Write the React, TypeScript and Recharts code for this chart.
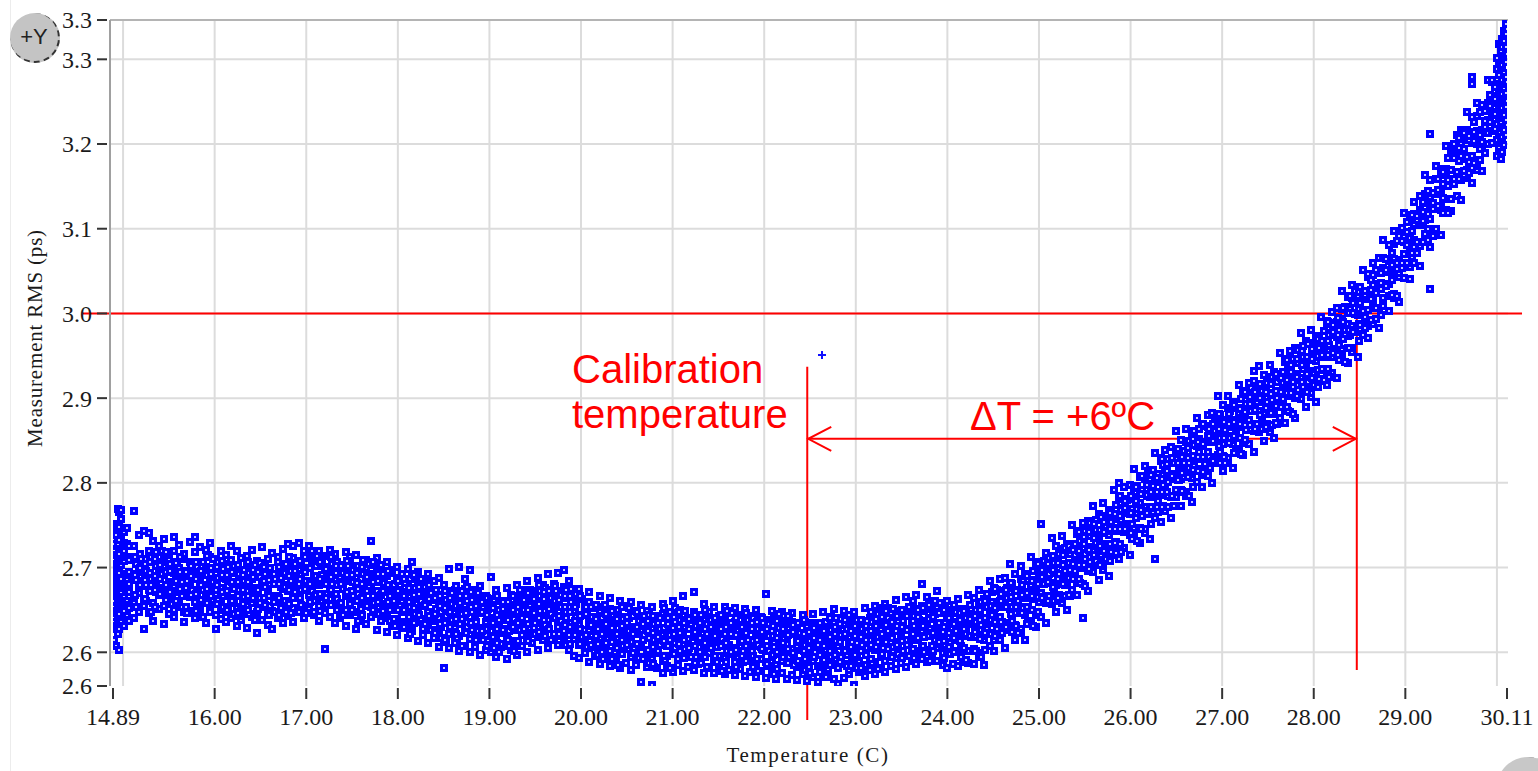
import React from 'react';
import {
  ScatterChart,
  Scatter,
  XAxis,
  YAxis,
  CartesianGrid,
  ReferenceLine,
  Label,
} from 'recharts';

// axis setup
const tempDomain = [14.89, 30.11];
const rmsDomain = [2.5602, 3.3464];
const tempTicks = [14.89, 16, 17, 18, 19, 20, 21, 22, 23, 24, 25, 26, 27, 28, 29, 30.11];
const rmsTicks = [2.5602, 2.6, 2.7, 2.8, 2.9, 3.0, 3.1, 3.2, 3.3, 3.3464];
const gridTemps = [15, 16, 17, 18, 19, 20, 21, 22, 23, 24, 25, 26, 27, 28, 29, 30];
const gridRms = [2.6, 2.7, 2.8, 2.9, 3.0, 3.1, 3.2, 3.3];

// annotation values
const calibrationTemp = 22.47;
const deltaT = 6;
const rmsLimit = 3.0;
const arrowRms = 2.852;
const limitLineTemps = [14.562, 30.274];
const calibrationLineRms = [2.937, 2.52];
const limitDropRms = [3.0, 2.579];
const strayReadings = [{ temp: 22.63, rms: 2.951 }];

// each row: [temperature, rms readings at that temperature...]
const warmupStart = [
  [14.89, 2.652, 2.668, 2.691, 2.699, 2.721, 2.734, 2.641, 2.706, 2.713, 2.627, 2.679],
  [14.9, 2.614, 2.636, 2.66, 2.674, 2.695, 2.71, 2.728, 2.742, 2.653, 2.684, 2.719],
  [14.92, 2.607, 2.631, 2.649, 2.667, 2.688, 2.702, 2.715, 2.738, 2.751, 2.676, 2.692],
  [14.94, 2.639, 2.657, 2.672, 2.698, 2.711, 2.727, 2.744, 2.769, 2.685, 2.622, 2.664],
  [14.96, 2.628, 2.645, 2.661, 2.683, 2.694, 2.716, 2.733, 2.748, 2.766, 2.603, 2.706],
  [14.98, 2.636, 2.651, 2.67, 2.687, 2.703, 2.722, 2.739, 2.757, 2.677, 2.768, 2.658],
  [15.01, 2.631, 2.649, 2.665, 2.692, 2.708, 2.72, 2.742, 2.676, 2.657, 2.729],
  [15.04, 2.643, 2.66, 2.673, 2.69, 2.713, 2.728, 2.685, 2.747, 2.638],
  [15.07, 2.637, 2.656, 2.671, 2.695, 2.709, 2.726, 2.681, 2.652],
];

const coolPlateau = [
  [15.12, 2.767, 2.641, 2.659, 2.664, 2.69, 2.712, 2.725],
  [15.17, 2.648, 2.67, 2.678, 2.701, 2.705, 2.738],
  [15.23, 2.655, 2.661, 2.684, 2.709, 2.743, 2.628],
  [15.28, 2.646, 2.673, 2.689, 2.693, 2.72, 2.741],
  [15.33, 2.637, 2.658, 2.681, 2.686, 2.714, 2.731],
  [15.39, 2.651, 2.668, 2.672, 2.697, 2.702, 2.726],
  [15.45, 2.633, 2.655, 2.676, 2.691, 2.716, 2.734],
  [15.5, 2.659, 2.662, 2.683, 2.705, 2.71, 2.645],
  [15.56, 2.642, 2.65, 2.678, 2.694, 2.719, 2.736],
  [15.61, 2.654, 2.671, 2.676, 2.699, 2.727, 2.661],
  [15.67, 2.636, 2.647, 2.673, 2.688, 2.712, 2.716],
  [15.73, 2.649, 2.665, 2.682, 2.69, 2.706, 2.73],
  [15.78, 2.64, 2.659, 2.67, 2.695, 2.718, 2.736],
  [15.84, 2.645, 2.652, 2.677, 2.686, 2.707, 2.724],
  [15.9, 2.634, 2.661, 2.668, 2.693, 2.701, 2.721],
  [15.95, 2.648, 2.657, 2.679, 2.684, 2.713, 2.729],
  [16.01, 2.627, 2.644, 2.669, 2.673, 2.698, 2.71],
  [16.07, 2.65, 2.662, 2.676, 2.691, 2.72, 2.639],
  [16.12, 2.636, 2.648, 2.671, 2.687, 2.704, 2.715],
  [16.18, 2.641, 2.659, 2.664, 2.694, 2.709, 2.726],
  [16.24, 2.631, 2.653, 2.677, 2.682, 2.7, 2.719],
  [16.29, 2.644, 2.649, 2.668, 2.69, 2.711, 2.638],
  [16.35, 2.629, 2.655, 2.672, 2.679, 2.705, 2.714],
  [16.41, 2.642, 2.658, 2.663, 2.686, 2.697, 2.721],
  [16.46, 2.623, 2.647, 2.67, 2.691, 2.702, 2.708],
  [16.52, 2.638, 2.654, 2.659, 2.681, 2.698, 2.724],
  [16.58, 2.645, 2.651, 2.674, 2.688, 2.71, 2.632],
  [16.63, 2.627, 2.649, 2.666, 2.683, 2.693, 2.717],
  [16.69, 2.64, 2.661, 2.667, 2.692, 2.707, 2.712],
  [16.75, 2.634, 2.646, 2.675, 2.679, 2.699, 2.722],
  [16.8, 2.643, 2.657, 2.672, 2.694, 2.704, 2.728],
  [16.86, 2.636, 2.652, 2.664, 2.689, 2.711, 2.725],
  [16.92, 2.648, 2.666, 2.681, 2.686, 2.703, 2.729],
  [16.97, 2.64, 2.655, 2.677, 2.696, 2.715, 2.72],
  [17.03, 2.651, 2.668, 2.672, 2.699, 2.713, 2.726],
  [17.09, 2.644, 2.66, 2.684, 2.69, 2.706, 2.648],
  [17.14, 2.637, 2.655, 2.679, 2.683, 2.708, 2.719],
  [17.2, 2.604, 2.646, 2.667, 2.688, 2.701, 2.714],
  [17.26, 2.642, 2.657, 2.675, 2.693, 2.697, 2.721],
  [17.31, 2.635, 2.661, 2.668, 2.685, 2.71, 2.716],
  [17.37, 2.64, 2.653, 2.681, 2.689, 2.703, 2.649],
  [17.43, 2.631, 2.65, 2.666, 2.684, 2.7, 2.718],
  [17.48, 2.644, 2.657, 2.671, 2.694, 2.707, 2.712],
  [17.54, 2.628, 2.648, 2.663, 2.678, 2.696, 2.715],
  [17.6, 2.638, 2.651, 2.674, 2.687, 2.702, 2.659],
  [17.65, 2.633, 2.655, 2.66, 2.681, 2.699, 2.709],
  [17.71, 2.731, 2.642, 2.654, 2.676, 2.688, 2.705],
  [17.77, 2.626, 2.647, 2.664, 2.672, 2.694, 2.711],
  [17.82, 2.637, 2.645, 2.668, 2.683, 2.699, 2.703],
  [17.88, 2.624, 2.641, 2.657, 2.679, 2.69, 2.706],
  [17.94, 2.633, 2.65, 2.661, 2.676, 2.697, 2.652],
  [17.99, 2.62, 2.638, 2.655, 2.673, 2.688, 2.701],
  [18.05, 2.629, 2.647, 2.659, 2.669, 2.692, 2.636],
  [18.11, 2.617, 2.634, 2.651, 2.671, 2.684, 2.698],
  [18.16, 2.707, 2.625, 2.644, 2.656, 2.674, 2.689],
  [18.22, 2.613, 2.636, 2.648, 2.663, 2.683, 2.695],
  [18.28, 2.62, 2.631, 2.655, 2.668, 2.679, 2.627],
  [18.33, 2.611, 2.628, 2.647, 2.659, 2.676, 2.692],
  [18.39, 2.617, 2.637, 2.644, 2.667, 2.684, 2.64],
  [18.45, 2.606, 2.625, 2.641, 2.66, 2.671, 2.688],
  [18.5, 2.581, 2.613, 2.634, 2.649, 2.662, 2.68],
  [18.56, 2.605, 2.621, 2.638, 2.653, 2.672, 2.698],
  [18.62, 2.611, 2.63, 2.642, 2.658, 2.674, 2.618],
  [18.67, 2.602, 2.619, 2.637, 2.651, 2.666, 2.701],
  [18.73, 2.608, 2.627, 2.641, 2.656, 2.675, 2.687],
  [18.79, 2.6, 2.616, 2.633, 2.647, 2.664, 2.697],
  [18.84, 2.606, 2.623, 2.638, 2.657, 2.669, 2.63],
  [18.9, 2.597, 2.614, 2.629, 2.646, 2.66, 2.678],
  [18.96, 2.603, 2.62, 2.636, 2.651, 2.667, 2.626],
];

const coolPlateauB = [
  [15.145, 2.654, 2.685, 2.692, 2.704],
  [15.2, 2.678, 2.695, 2.697, 2.71],
  [15.255, 2.661, 2.679, 2.696, 2.71],
  [15.31, 2.648, 2.68, 2.686, 2.713],
  [15.36, 2.671, 2.677, 2.702, 2.718],
  [15.42, 2.671, 2.692, 2.707, 2.719],
  [15.475, 2.666, 2.67, 2.696, 2.715],
  [15.53, 2.657, 2.67, 2.696, 2.701],
  [15.585, 2.658, 2.683, 2.694, 2.706],
  [15.64, 2.653, 2.666, 2.683, 2.71],
  [15.7, 2.646, 2.677, 2.684, 2.696],
  [15.755, 2.673, 2.69, 2.692, 2.705],
  [15.81, 2.652, 2.67, 2.687, 2.701],
  [15.87, 2.642, 2.674, 2.68, 2.707],
  [15.925, 2.668, 2.674, 2.699, 2.715],
  [15.98, 2.662, 2.683, 2.698, 2.71],
  [16.04, 2.658, 2.662, 2.688, 2.707],
  [16.095, 2.654, 2.667, 2.693, 2.698],
  [16.15, 2.653, 2.678, 2.689, 2.701],
  [16.21, 2.645, 2.658, 2.675, 2.702],
  [16.265, 2.643, 2.674, 2.681, 2.693],
  [16.32, 2.665, 2.682, 2.684, 2.697],
  [16.38, 2.645, 2.663, 2.68, 2.694],
  [16.435, 2.638, 2.67, 2.676, 2.703],
  [16.49, 2.658, 2.664, 2.689, 2.705],
  [16.55, 2.656, 2.677, 2.692, 2.704],
  [16.605, 2.651, 2.655, 2.681, 2.7],
  [16.66, 2.648, 2.661, 2.687, 2.692],
  [16.72, 2.652, 2.677, 2.688, 2.7],
  [16.775, 2.647, 2.66, 2.677, 2.704],
  [16.83, 2.646, 2.677, 2.684, 2.696],
  [16.89, 2.673, 2.69, 2.692, 2.705],
  [16.945, 2.656, 2.674, 2.691, 2.705],
  [17.0, 2.646, 2.678, 2.684, 2.711],
  [17.06, 2.672, 2.678, 2.703, 2.719],
  [17.115, 2.666, 2.687, 2.702, 2.714],
  [17.17, 2.661, 2.665, 2.691, 2.71],
  [17.23, 2.656, 2.669, 2.695, 2.7],
  [17.285, 2.656, 2.681, 2.692, 2.704],
  [17.34, 2.65, 2.663, 2.68, 2.707],
  [17.4, 2.644, 2.675, 2.682, 2.694],
  [17.455, 2.67, 2.687, 2.689, 2.702],
  [17.51, 2.648, 2.666, 2.683, 2.697],
  [17.57, 2.637, 2.669, 2.675, 2.702],
  [17.625, 2.662, 2.668, 2.693, 2.709],
  [17.68, 2.656, 2.677, 2.692, 2.704],
  [17.74, 2.654, 2.658, 2.684, 2.703],
  [17.795, 2.645, 2.658, 2.684, 2.689],
  [17.85, 2.646, 2.671, 2.682, 2.694],
  [17.91, 2.637, 2.65, 2.667, 2.694],
  [17.965, 2.631, 2.662, 2.669, 2.681],
  [18.02, 2.655, 2.672, 2.674, 2.687],
  [18.08, 2.633, 2.651, 2.668, 2.682],
  [18.135, 2.622, 2.654, 2.66, 2.687],
  [18.19, 2.645, 2.651, 2.676, 2.692],
  [18.25, 2.639, 2.66, 2.675, 2.687],
  [18.305, 2.634, 2.638, 2.664, 2.683],
  [18.36, 2.626, 2.639, 2.665, 2.67],
  [18.42, 2.626, 2.651, 2.662, 2.674],
  [18.475, 2.617, 2.63, 2.647, 2.674],
  [18.53, 2.612, 2.643, 2.65, 2.662],
  [18.59, 2.638, 2.655, 2.657, 2.67],
  [18.645, 2.617, 2.635, 2.652, 2.666],
  [18.7, 2.607, 2.639, 2.645, 2.672],
  [18.76, 2.63, 2.636, 2.661, 2.677],
  [18.815, 2.626, 2.647, 2.662, 2.674],
  [18.87, 2.621, 2.625, 2.651, 2.67],
  [18.93, 2.614, 2.627, 2.653, 2.658],
  [18.985, 2.615, 2.64, 2.651, 2.663],
];

const coolPlateauC = [
  [15.134, 2.668, 2.691, 2.712],
  [15.184, 2.679, 2.699, 2.716],
  [15.244, 2.663, 2.685, 2.704],
  [15.294, 2.672, 2.694, 2.706],
  [15.344, 2.653, 2.673, 2.69, 2.71],
  [15.404, 2.669, 2.686, 2.703],
  [15.464, 2.662, 2.679, 2.695, 2.718],
  [15.514, 2.671, 2.696, 2.704],
  [15.574, 2.661, 2.684, 2.705],
  [15.624, 2.675, 2.695, 2.712],
  [15.684, 2.654, 2.676, 2.695],
  [15.744, 2.668, 2.69, 2.702],
  [15.794, 2.649, 2.669, 2.686, 2.706],
  [15.854, 2.662, 2.679, 2.696],
  [15.914, 2.658, 2.675, 2.691, 2.714],
  [15.964, 2.667, 2.692, 2.7],
  [16.024, 2.657, 2.68, 2.701],
  [16.084, 2.671, 2.691, 2.708],
  [16.134, 2.65, 2.672, 2.691],
  [16.194, 2.661, 2.683, 2.695],
  [16.254, 2.646, 2.666, 2.683, 2.703],
  [16.304, 2.657, 2.674, 2.691],
  [16.364, 2.65, 2.667, 2.683, 2.706],
  [16.424, 2.664, 2.689, 2.697],
  [16.474, 2.651, 2.674, 2.695],
  [16.534, 2.664, 2.684, 2.701],
  [16.594, 2.644, 2.666, 2.685],
  [16.644, 2.659, 2.681, 2.693],
  [16.704, 2.644, 2.664, 2.681, 2.701],
  [16.764, 2.66, 2.677, 2.694],
  [16.814, 2.657, 2.674, 2.69, 2.713],
  [16.874, 2.671, 2.696, 2.704],
  [16.934, 2.664, 2.687, 2.708],
  [16.984, 2.675, 2.695, 2.712],
  [17.044, 2.659, 2.681, 2.7],
  [17.104, 2.668, 2.69, 2.702],
  [17.154, 2.649, 2.669, 2.686, 2.706],
  [17.214, 2.664, 2.681, 2.698],
  [17.274, 2.656, 2.673, 2.689, 2.712],
  [17.324, 2.669, 2.694, 2.702],
  [17.384, 2.658, 2.681, 2.702],
  [17.444, 2.671, 2.691, 2.708],
  [17.494, 2.65, 2.672, 2.691],
  [17.554, 2.66, 2.682, 2.694],
  [17.614, 2.644, 2.664, 2.681, 2.701],
  [17.664, 2.655, 2.672, 2.689],
  [17.724, 2.65, 2.667, 2.683, 2.706],
  [17.784, 2.659, 2.684, 2.692],
  [17.834, 2.649, 2.672, 2.693],
  [17.894, 2.659, 2.679, 2.696],
  [17.954, 2.639, 2.661, 2.68],
  [18.004, 2.65, 2.672, 2.684],
  [18.064, 2.63, 2.65, 2.667, 2.687],
  [18.124, 2.642, 2.659, 2.676],
  [18.174, 2.635, 2.652, 2.668, 2.691],
  [18.234, 2.644, 2.669, 2.677],
  [18.294, 2.633, 2.656, 2.677],
  [18.344, 2.643, 2.663, 2.68],
  [18.404, 2.623, 2.645, 2.664],
  [18.464, 2.633, 2.655, 2.667],
  [18.514, 2.615, 2.635, 2.652, 2.672],
  [18.574, 2.63, 2.647, 2.664],
  [18.634, 2.622, 2.639, 2.655, 2.678],
  [18.684, 2.633, 2.658, 2.666],
  [18.744, 2.623, 2.646, 2.667],
  [18.804, 2.634, 2.654, 2.671],
  [18.854, 2.614, 2.636, 2.655],
  [18.914, 2.625, 2.647, 2.659],
  [18.974, 2.607, 2.627, 2.644, 2.664],
];

const trough = [
  [19.02, 2.6, 2.619, 2.631, 2.652, 2.66, 2.689],
  [19.07, 2.595, 2.614, 2.627, 2.641, 2.665, 2.673],
  [19.13, 2.606, 2.61, 2.638, 2.649, 2.661, 2.623],
  [19.19, 2.592, 2.617, 2.624, 2.644, 2.654, 2.676],
  [19.24, 2.603, 2.613, 2.633, 2.639, 2.668, 2.628],
  [19.3, 2.597, 2.611, 2.626, 2.648, 2.657, 2.679],
  [19.36, 2.607, 2.62, 2.641, 2.652, 2.664, 2.631],
  [19.41, 2.6, 2.616, 2.629, 2.645, 2.67, 2.684],
  [19.47, 2.611, 2.623, 2.637, 2.659, 2.666, 2.644],
  [19.53, 2.603, 2.618, 2.634, 2.651, 2.672, 2.688],
  [19.58, 2.614, 2.626, 2.642, 2.657, 2.679, 2.636],
  [19.64, 2.605, 2.629, 2.638, 2.662, 2.674, 2.692],
  [19.7, 2.615, 2.621, 2.648, 2.655, 2.681, 2.645],
  [19.75, 2.609, 2.63, 2.636, 2.66, 2.669, 2.694],
  [19.81, 2.611, 2.625, 2.645, 2.664, 2.677, 2.697],
  [19.87, 2.603, 2.62, 2.633, 2.653, 2.667, 2.684],
  [19.92, 2.596, 2.616, 2.628, 2.649, 2.658, 2.622],
  [19.98, 2.593, 2.609, 2.632, 2.641, 2.663, 2.675],
  [20.04, 2.599, 2.612, 2.626, 2.647, 2.655, 2.618],
  [20.09, 2.589, 2.605, 2.625, 2.636, 2.659, 2.671],
  [20.15, 2.596, 2.61, 2.629, 2.638, 2.652, 2.614],
  [20.21, 2.586, 2.606, 2.617, 2.637, 2.649, 2.666],
  [20.26, 2.593, 2.603, 2.622, 2.643, 2.656, 2.63],
  [20.32, 2.584, 2.601, 2.619, 2.628, 2.651, 2.664],
  [20.38, 2.59, 2.608, 2.62, 2.639, 2.647, 2.611],
  [20.43, 2.582, 2.598, 2.614, 2.634, 2.642, 2.661],
  [20.49, 2.587, 2.605, 2.617, 2.631, 2.654, 2.626],
  [20.55, 2.579, 2.595, 2.612, 2.63, 2.643, 2.659],
  [20.6, 2.585, 2.6, 2.621, 2.629, 2.648, 2.607],
  [20.66, 2.565, 2.594, 2.606, 2.625, 2.641, 2.656],
  [20.72, 2.583, 2.597, 2.618, 2.628, 2.649, 2.62],
  [20.77, 2.561, 2.592, 2.607, 2.623, 2.638, 2.654],
  [20.83, 2.581, 2.599, 2.611, 2.632, 2.643, 2.616],
  [20.89, 2.576, 2.59, 2.613, 2.621, 2.645, 2.657],
  [20.94, 2.584, 2.596, 2.619, 2.627, 2.646, 2.608],
  [21.0, 2.577, 2.598, 2.605, 2.629, 2.64, 2.66],
  [21.06, 2.585, 2.592, 2.614, 2.633, 2.645, 2.619],
  [21.11, 2.578, 2.597, 2.61, 2.624, 2.649, 2.667],
  [21.17, 2.583, 2.603, 2.616, 2.636, 2.641, 2.606],
  [21.23, 2.579, 2.594, 2.618, 2.626, 2.647, 2.671],
  [21.28, 2.586, 2.6, 2.612, 2.633, 2.644, 2.623],
  [21.34, 2.576, 2.595, 2.607, 2.628, 2.639, 2.657],
  [21.4, 2.581, 2.599, 2.617, 2.624, 2.648, 2.61],
  [21.45, 2.575, 2.591, 2.611, 2.627, 2.638, 2.654],
  [21.51, 2.582, 2.596, 2.608, 2.631, 2.643, 2.619],
  [21.57, 2.574, 2.593, 2.613, 2.621, 2.641, 2.653],
  [21.62, 2.579, 2.598, 2.609, 2.63, 2.646, 2.604],
  [21.68, 2.573, 2.589, 2.605, 2.626, 2.636, 2.652],
  [21.74, 2.58, 2.594, 2.616, 2.622, 2.644, 2.612],
  [21.79, 2.572, 2.591, 2.603, 2.624, 2.637, 2.651],
  [21.85, 2.577, 2.596, 2.611, 2.628, 2.643, 2.601],
  [21.91, 2.571, 2.587, 2.607, 2.619, 2.635, 2.65],
  [21.96, 2.578, 2.592, 2.606, 2.627, 2.642, 2.615],
  [22.02, 2.57, 2.589, 2.602, 2.621, 2.638, 2.669],
  [22.08, 2.575, 2.594, 2.61, 2.625, 2.637, 2.649],
  [22.13, 2.569, 2.585, 2.605, 2.616, 2.634, 2.612],
  [22.19, 2.576, 2.59, 2.608, 2.624, 2.64, 2.647],
  [22.25, 2.568, 2.587, 2.599, 2.619, 2.633, 2.61],
  [22.3, 2.573, 2.592, 2.604, 2.623, 2.636, 2.646],
  [22.36, 2.567, 2.583, 2.603, 2.615, 2.632, 2.608],
  [22.42, 2.574, 2.588, 2.607, 2.62, 2.638, 2.644],
  [22.47, 2.566, 2.586, 2.598, 2.617, 2.631, 2.612],
  [22.53, 2.571, 2.59, 2.606, 2.619, 2.635, 2.645],
  [22.59, 2.565, 2.584, 2.597, 2.614, 2.63, 2.609],
  [22.64, 2.572, 2.587, 2.602, 2.621, 2.634, 2.648],
  [22.7, 2.576, 2.58, 2.6, 2.613, 2.629, 2.611],
  [22.76, 2.569, 2.585, 2.604, 2.617, 2.636, 2.651],
  [22.81, 2.562, 2.582, 2.596, 2.614, 2.627, 2.607],
  [22.87, 2.57, 2.586, 2.603, 2.618, 2.632, 2.649],
  [22.93, 2.574, 2.579, 2.597, 2.611, 2.628, 2.644],
  [22.98, 2.561, 2.585, 2.599, 2.617, 2.631, 2.647],
  [23.04, 2.577, 2.59, 2.605, 2.621, 2.637, 2.612],
  [23.1, 2.572, 2.585, 2.601, 2.616, 2.633, 2.652],
  [23.15, 2.579, 2.592, 2.609, 2.624, 2.64, 2.614],
  [23.21, 2.574, 2.589, 2.603, 2.621, 2.635, 2.655],
  [23.27, 2.581, 2.594, 2.61, 2.626, 2.642, 2.617],
  [23.32, 2.577, 2.59, 2.607, 2.62, 2.639, 2.657],
  [23.38, 2.584, 2.598, 2.611, 2.629, 2.645, 2.621],
  [23.44, 2.58, 2.593, 2.612, 2.625, 2.641, 2.662],
  [23.49, 2.587, 2.601, 2.617, 2.633, 2.649, 2.623],
  [23.55, 2.583, 2.596, 2.614, 2.628, 2.644, 2.665],
  [23.61, 2.59, 2.604, 2.618, 2.636, 2.652, 2.626],
  [23.66, 2.586, 2.601, 2.615, 2.633, 2.647, 2.668],
  [23.72, 2.592, 2.607, 2.624, 2.637, 2.655, 2.681],
  [23.78, 2.588, 2.603, 2.619, 2.632, 2.651, 2.665],
  [23.83, 2.593, 2.608, 2.622, 2.64, 2.656, 2.628],
  [23.89, 2.59, 2.605, 2.621, 2.635, 2.653, 2.672],
  [23.95, 2.585, 2.599, 2.617, 2.631, 2.649, 2.624],
  [24.0, 2.581, 2.598, 2.612, 2.63, 2.644, 2.661],
  [24.06, 2.586, 2.602, 2.616, 2.634, 2.65, 2.62],
  [24.12, 2.584, 2.6, 2.614, 2.632, 2.646, 2.663],
  [24.17, 2.589, 2.603, 2.621, 2.635, 2.651, 2.627],
  [24.23, 2.587, 2.601, 2.619, 2.633, 2.649, 2.668],
];

const troughB = [
  [19.045, 2.605, 2.618, 2.635, 2.662],
  [19.1, 2.6, 2.631, 2.638, 2.65],
  [19.16, 2.628, 2.645, 2.647, 2.66],
  [19.215, 2.607, 2.625, 2.642, 2.656],
  [19.27, 2.601, 2.633, 2.639, 2.666],
  [19.33, 2.626, 2.632, 2.657, 2.673],
  [19.385, 2.626, 2.647, 2.662, 2.674],
  [19.44, 2.625, 2.629, 2.655, 2.674],
  [19.5, 2.621, 2.634, 2.66, 2.665],
  [19.555, 2.624, 2.649, 2.66, 2.672],
  [19.61, 2.619, 2.632, 2.649, 2.676],
  [19.67, 2.614, 2.645, 2.652, 2.664],
  [19.725, 2.64, 2.657, 2.659, 2.672],
  [19.78, 2.619, 2.637, 2.654, 2.668],
  [19.84, 2.609, 2.641, 2.647, 2.674],
  [19.895, 2.628, 2.634, 2.659, 2.675],
  [19.95, 2.621, 2.642, 2.657, 2.669],
  [20.01, 2.614, 2.618, 2.644, 2.663],
  [20.065, 2.606, 2.619, 2.645, 2.65],
  [20.12, 2.606, 2.631, 2.642, 2.654],
  [20.18, 2.597, 2.61, 2.627, 2.654],
  [20.235, 2.592, 2.623, 2.63, 2.642],
  [20.29, 2.616, 2.633, 2.635, 2.648],
  [20.35, 2.595, 2.613, 2.63, 2.644],
  [20.405, 2.585, 2.617, 2.623, 2.65],
  [20.46, 2.608, 2.614, 2.639, 2.655],
  [20.52, 2.604, 2.625, 2.64, 2.652],
  [20.575, 2.6, 2.604, 2.63, 2.649],
  [20.63, 2.593, 2.606, 2.632, 2.637],
  [20.69, 2.595, 2.62, 2.631, 2.643],
  [20.745, 2.587, 2.6, 2.617, 2.644],
  [20.8, 2.583, 2.614, 2.621, 2.633],
  [20.86, 2.609, 2.626, 2.628, 2.641],
  [20.915, 2.591, 2.609, 2.626, 2.64],
  [20.97, 2.582, 2.614, 2.62, 2.647],
  [21.03, 2.605, 2.611, 2.636, 2.652],
  [21.085, 2.602, 2.623, 2.638, 2.65],
  [21.14, 2.6, 2.604, 2.63, 2.649],
  [21.2, 2.594, 2.607, 2.633, 2.638],
  [21.255, 2.595, 2.62, 2.631, 2.643],
  [21.31, 2.587, 2.6, 2.617, 2.644],
  [21.37, 2.583, 2.614, 2.621, 2.633],
  [21.425, 2.607, 2.624, 2.626, 2.639],
  [21.48, 2.588, 2.606, 2.623, 2.637],
  [21.54, 2.578, 2.61, 2.616, 2.643],
  [21.595, 2.602, 2.608, 2.633, 2.649],
  [21.65, 2.598, 2.619, 2.634, 2.646],
  [21.71, 2.595, 2.599, 2.625, 2.644],
  [21.765, 2.588, 2.601, 2.627, 2.632],
  [21.82, 2.59, 2.615, 2.626, 2.638],
  [21.88, 2.583, 2.596, 2.613, 2.64],
  [21.935, 2.578, 2.609, 2.616, 2.628],
  [21.99, 2.603, 2.62, 2.622, 2.635],
  [22.05, 2.584, 2.602, 2.619, 2.633],
  [22.105, 2.574, 2.606, 2.612, 2.639],
  [22.16, 2.598, 2.604, 2.629, 2.645],
  [22.22, 2.595, 2.616, 2.631, 2.643],
  [22.275, 2.591, 2.595, 2.621, 2.64],
  [22.33, 2.585, 2.598, 2.624, 2.629],
  [22.39, 2.587, 2.612, 2.623, 2.635],
  [22.445, 2.579, 2.592, 2.609, 2.636],
  [22.5, 2.575, 2.606, 2.613, 2.625],
  [22.56, 2.6, 2.617, 2.619, 2.632],
  [22.615, 2.58, 2.598, 2.615, 2.629],
  [22.67, 2.571, 2.603, 2.609, 2.636],
  [22.73, 2.595, 2.601, 2.626, 2.642],
  [22.785, 2.592, 2.613, 2.628, 2.64],
  [22.84, 2.59, 2.594, 2.62, 2.639],
  [22.9, 2.584, 2.597, 2.623, 2.628],
  [22.955, 2.587, 2.612, 2.623, 2.635],
  [23.01, 2.581, 2.594, 2.611, 2.638],
  [23.07, 2.578, 2.609, 2.616, 2.628],
  [23.125, 2.605, 2.622, 2.624, 2.637],
  [23.18, 2.587, 2.605, 2.622, 2.636],
  [23.24, 2.58, 2.612, 2.618, 2.645],
  [23.295, 2.605, 2.611, 2.636, 2.652],
  [23.35, 2.604, 2.625, 2.64, 2.652],
  [23.41, 2.602, 2.606, 2.632, 2.651],
  [23.465, 2.598, 2.611, 2.637, 2.642],
  [23.52, 2.601, 2.626, 2.637, 2.649],
  [23.58, 2.596, 2.609, 2.626, 2.653],
  [23.635, 2.593, 2.624, 2.631, 2.643],
  [23.69, 2.619, 2.636, 2.638, 2.651],
  [23.75, 2.6, 2.618, 2.635, 2.649],
  [23.805, 2.59, 2.622, 2.628, 2.655],
  [23.86, 2.614, 2.62, 2.645, 2.661],
  [23.92, 2.61, 2.631, 2.646, 2.658],
  [23.975, 2.605, 2.609, 2.635, 2.654],
  [24.03, 2.598, 2.611, 2.637, 2.642],
  [24.09, 2.6, 2.625, 2.636, 2.648],
  [24.145, 2.594, 2.607, 2.624, 2.651],
  [24.2, 2.591, 2.622, 2.629, 2.641],
  [24.26, 2.618, 2.635, 2.637, 2.65],
];

const troughC = [
  [19.034, 2.618, 2.635, 2.652],
  [19.084, 2.611, 2.628, 2.644, 2.667],
  [19.144, 2.626, 2.651, 2.659],
  [19.204, 2.615, 2.638, 2.659],
  [19.254, 2.63, 2.65, 2.667],
  [19.314, 2.613, 2.635, 2.654],
  [19.374, 2.628, 2.65, 2.662],
  [19.424, 2.613, 2.633, 2.65, 2.67],
  [19.484, 2.629, 2.646, 2.663],
  [19.544, 2.624, 2.641, 2.657, 2.68],
  [19.594, 2.638, 2.663, 2.671],
  [19.654, 2.628, 2.651, 2.672],
  [19.714, 2.641, 2.661, 2.678],
  [19.764, 2.621, 2.643, 2.662],
  [19.824, 2.632, 2.654, 2.666],
  [19.884, 2.61, 2.63, 2.647, 2.667],
  [19.934, 2.62, 2.637, 2.654],
  [19.994, 2.61, 2.627, 2.643, 2.666],
  [20.054, 2.62, 2.645, 2.653],
  [20.104, 2.609, 2.632, 2.653],
  [20.164, 2.619, 2.639, 2.656],
  [20.224, 2.6, 2.622, 2.641],
  [20.274, 2.611, 2.633, 2.645],
  [20.334, 2.592, 2.612, 2.629, 2.649],
  [20.394, 2.605, 2.622, 2.639],
  [20.444, 2.598, 2.615, 2.631, 2.654],
  [20.504, 2.609, 2.634, 2.642],
  [20.564, 2.599, 2.622, 2.643],
  [20.614, 2.61, 2.63, 2.647],
  [20.674, 2.592, 2.614, 2.633],
  [20.734, 2.603, 2.625, 2.637],
  [20.784, 2.586, 2.606, 2.623, 2.643],
  [20.844, 2.601, 2.618, 2.635],
  [20.904, 2.596, 2.613, 2.629, 2.652],
  [20.954, 2.608, 2.633, 2.641],
  [21.014, 2.598, 2.621, 2.642],
  [21.074, 2.61, 2.63, 2.647],
  [21.124, 2.593, 2.615, 2.634],
  [21.184, 2.605, 2.627, 2.639],
  [21.244, 2.587, 2.607, 2.624, 2.644],
  [21.294, 2.6, 2.617, 2.634],
  [21.354, 2.594, 2.611, 2.627, 2.65],
  [21.414, 2.605, 2.63, 2.638],
  [21.464, 2.596, 2.619, 2.64],
  [21.524, 2.607, 2.627, 2.644],
  [21.584, 2.589, 2.611, 2.63],
  [21.634, 2.6, 2.622, 2.634],
  [21.694, 2.583, 2.603, 2.62, 2.64],
  [21.754, 2.596, 2.613, 2.63],
  [21.804, 2.59, 2.607, 2.623, 2.646],
  [21.864, 2.602, 2.627, 2.635],
  [21.924, 2.592, 2.615, 2.636],
  [21.974, 2.604, 2.624, 2.641],
  [22.034, 2.586, 2.608, 2.627],
  [22.094, 2.597, 2.619, 2.631],
  [22.144, 2.58, 2.6, 2.617, 2.637],
  [22.204, 2.594, 2.611, 2.628],
  [22.264, 2.587, 2.604, 2.62, 2.643],
  [22.314, 2.599, 2.624, 2.632],
  [22.374, 2.59, 2.613, 2.634],
  [22.434, 2.601, 2.621, 2.638],
  [22.484, 2.583, 2.605, 2.624],
  [22.544, 2.595, 2.617, 2.629],
  [22.604, 2.577, 2.597, 2.614, 2.634],
  [22.654, 2.591, 2.608, 2.625],
  [22.714, 2.585, 2.602, 2.618, 2.641],
  [22.774, 2.597, 2.622, 2.63],
  [22.824, 2.589, 2.612, 2.633],
  [22.884, 2.601, 2.621, 2.638],
  [22.944, 2.584, 2.606, 2.625],
  [22.994, 2.597, 2.619, 2.631],
  [23.054, 2.581, 2.601, 2.618, 2.638],
  [23.114, 2.597, 2.614, 2.631],
  [23.164, 2.592, 2.609, 2.625, 2.648],
  [23.224, 2.606, 2.631, 2.639],
  [23.284, 2.598, 2.621, 2.642],
  [23.334, 2.612, 2.632, 2.649],
  [23.394, 2.595, 2.617, 2.636],
  [23.454, 2.609, 2.631, 2.643],
  [23.504, 2.593, 2.613, 2.63, 2.65],
  [23.564, 2.609, 2.626, 2.643],
  [23.624, 2.604, 2.621, 2.637, 2.66],
  [23.674, 2.617, 2.642, 2.65],
  [23.734, 2.608, 2.631, 2.652],
  [23.794, 2.619, 2.639, 2.656],
  [23.844, 2.601, 2.623, 2.642],
  [23.904, 2.612, 2.634, 2.646],
  [23.964, 2.593, 2.613, 2.63, 2.65],
  [24.014, 2.606, 2.623, 2.64],
  [24.074, 2.6, 2.617, 2.633, 2.656],
  [24.134, 2.613, 2.638, 2.646],
  [24.184, 2.605, 2.628, 2.649],
  [24.244, 2.619, 2.639, 2.656],
];

const rise = [
  [24.29, 2.586, 2.604, 2.618, 2.633, 2.645, 2.664],
  [24.34, 2.594, 2.599, 2.625, 2.64, 2.658, 2.673],
  [24.4, 2.585, 2.614, 2.619, 2.634, 2.656, 2.663],
  [24.46, 2.608, 2.621, 2.636, 2.65, 2.656, 2.684],
  [24.51, 2.601, 2.615, 2.634, 2.649, 2.673, 2.676],
  [24.57, 2.614, 2.633, 2.642, 2.661, 2.672, 2.686],
  [24.63, 2.605, 2.629, 2.653, 2.657, 2.671, 2.688],
  [24.68, 2.626, 2.635, 2.651, 2.671, 2.682, 2.704],
  [24.74, 2.614, 2.632, 2.646, 2.661, 2.673, 2.692],
  [24.8, 2.623, 2.628, 2.654, 2.669, 2.687, 2.702],
  [24.85, 2.615, 2.644, 2.649, 2.664, 2.686, 2.693],
  [24.91, 2.637, 2.65, 2.665, 2.679, 2.685, 2.713],
  [24.97, 2.63, 2.644, 2.663, 2.678, 2.702, 2.705],
  [25.02, 2.642, 2.661, 2.67, 2.689, 2.7, 2.751],
  [25.08, 2.634, 2.658, 2.682, 2.686, 2.7, 2.717],
  [25.14, 2.657, 2.666, 2.682, 2.702, 2.713, 2.735],
  [25.19, 2.647, 2.665, 2.679, 2.694, 2.706, 2.725],
  [25.25, 2.658, 2.663, 2.689, 2.704, 2.722, 2.737],
  [25.31, 2.65, 2.679, 2.684, 2.699, 2.721, 2.728],
  [25.36, 2.674, 2.687, 2.702, 2.716, 2.722, 2.75],
  [25.42, 2.668, 2.682, 2.701, 2.716, 2.74, 2.743],
  [25.48, 2.64, 2.681, 2.7, 2.709, 2.728, 2.739, 2.753],
  [25.53, 2.672, 2.696, 2.72, 2.724, 2.738, 2.755],
  [25.59, 2.695, 2.704, 2.72, 2.74, 2.751, 2.773],
  [25.65, 2.685, 2.703, 2.717, 2.732, 2.744, 2.763],
  [25.7, 2.697, 2.702, 2.728, 2.743, 2.761, 2.776],
  [25.76, 2.69, 2.719, 2.724, 2.739, 2.761, 2.768],
  [25.82, 2.715, 2.728, 2.743, 2.757, 2.763, 2.791],
  [25.87, 2.71, 2.724, 2.743, 2.758, 2.782, 2.785, 2.8],
  [25.93, 2.723, 2.742, 2.751, 2.77, 2.781, 2.795],
  [25.99, 2.715, 2.739, 2.763, 2.767, 2.781, 2.798],
  [26.04, 2.738, 2.747, 2.763, 2.783, 2.794, 2.816],
  [26.1, 2.729, 2.747, 2.761, 2.776, 2.788, 2.807],
  [26.16, 2.741, 2.746, 2.772, 2.787, 2.805, 2.82],
  [26.21, 2.734, 2.763, 2.768, 2.783, 2.805, 2.812],
  [26.27, 2.71, 2.759, 2.772, 2.787, 2.801, 2.807, 2.835],
  [26.33, 2.754, 2.768, 2.787, 2.802, 2.826, 2.829],
  [26.38, 2.767, 2.786, 2.795, 2.814, 2.825, 2.839],
  [26.44, 2.759, 2.783, 2.807, 2.811, 2.825, 2.842],
  [26.5, 2.783, 2.792, 2.808, 2.828, 2.839, 2.861],
  [26.55, 2.773, 2.791, 2.805, 2.82, 2.832, 2.851],
  [26.61, 2.784, 2.789, 2.815, 2.83, 2.848, 2.863],
  [26.67, 2.777, 2.806, 2.811, 2.826, 2.848, 2.855],
  [26.72, 2.801, 2.814, 2.829, 2.843, 2.849, 2.877],
  [26.78, 2.795, 2.809, 2.828, 2.843, 2.867, 2.87],
  [26.84, 2.808, 2.827, 2.836, 2.855, 2.866, 2.88],
  [26.89, 2.8, 2.824, 2.848, 2.852, 2.866, 2.883],
  [26.95, 2.824, 2.833, 2.849, 2.869, 2.88, 2.902],
  [27.01, 2.814, 2.832, 2.846, 2.861, 2.873, 2.892],
  [27.06, 2.824, 2.829, 2.855, 2.87, 2.888, 2.903],
  [27.12, 2.817, 2.846, 2.851, 2.866, 2.888, 2.895],
  [27.18, 2.84, 2.853, 2.868, 2.882, 2.888, 2.916],
  [27.23, 2.833, 2.847, 2.866, 2.881, 2.905, 2.908],
  [27.29, 2.846, 2.865, 2.874, 2.893, 2.904, 2.918],
  [27.35, 2.837, 2.861, 2.885, 2.889, 2.903, 2.92, 2.932],
  [27.4, 2.86, 2.869, 2.885, 2.905, 2.916, 2.938],
  [27.46, 2.849, 2.867, 2.881, 2.896, 2.908, 2.927],
  [27.52, 2.86, 2.865, 2.891, 2.906, 2.924, 2.939],
  [27.57, 2.853, 2.882, 2.887, 2.902, 2.924, 2.931],
  [27.63, 2.877, 2.89, 2.905, 2.919, 2.925, 2.953],
  [27.69, 2.871, 2.885, 2.904, 2.919, 2.943, 2.946],
  [27.74, 2.884, 2.903, 2.912, 2.931, 2.942, 2.956],
  [27.8, 2.876, 2.9, 2.924, 2.928, 2.942, 2.959],
  [27.86, 2.899, 2.908, 2.924, 2.944, 2.955, 2.977],
  [27.91, 2.89, 2.908, 2.922, 2.937, 2.949, 2.968],
  [27.97, 2.901, 2.906, 2.932, 2.947, 2.965, 2.98],
  [28.03, 2.895, 2.924, 2.929, 2.944, 2.966, 2.973],
  [28.08, 2.92, 2.933, 2.948, 2.962, 2.968, 2.996],
  [28.14, 2.916, 2.93, 2.949, 2.964, 2.988, 2.991],
  [28.2, 2.93, 2.949, 2.958, 2.977, 2.988, 3.002],
  [28.25, 2.924, 2.948, 2.972, 2.976, 2.99, 3.007],
  [28.31, 2.949, 2.958, 2.974, 2.994, 3.005, 3.027],
  [28.37, 2.941, 2.959, 2.973, 2.988, 3.0, 3.019],
  [28.42, 2.954, 2.959, 2.985, 3.0, 3.018, 3.033],
  [28.48, 2.949, 2.978, 2.983, 2.998, 3.02, 3.027],
];

const riseB = [
  [24.315, 2.601, 2.619, 2.636, 2.65],
  [24.37, 2.594, 2.626, 2.632, 2.659],
  [24.43, 2.622, 2.628, 2.653, 2.669],
  [24.485, 2.623, 2.644, 2.659, 2.671],
  [24.54, 2.624, 2.628, 2.654, 2.673],
  [24.6, 2.623, 2.636, 2.662, 2.667],
  [24.655, 2.628, 2.653, 2.664, 2.676],
  [24.71, 2.624, 2.637, 2.654, 2.681],
  [24.77, 2.623, 2.654, 2.661, 2.673],
  [24.825, 2.652, 2.669, 2.671, 2.684],
  [24.88, 2.636, 2.654, 2.671, 2.685],
  [24.94, 2.631, 2.663, 2.669, 2.696],
  [24.995, 2.659, 2.665, 2.69, 2.706],
  [25.05, 2.66, 2.681, 2.696, 2.708],
  [25.11, 2.662, 2.666, 2.692, 2.711],
  [25.165, 2.661, 2.674, 2.7, 2.705],
  [25.22, 2.668, 2.693, 2.704, 2.716],
  [25.28, 2.666, 2.679, 2.696, 2.723],
  [25.335, 2.666, 2.697, 2.704, 2.716],
  [25.39, 2.696, 2.713, 2.715, 2.728],
  [25.45, 2.682, 2.7, 2.717, 2.731],
  [25.505, 2.678, 2.71, 2.716, 2.743],
  [25.56, 2.706, 2.712, 2.737, 2.753],
  [25.62, 2.708, 2.729, 2.744, 2.756],
  [25.675, 2.711, 2.715, 2.741, 2.76],
  [25.73, 2.71, 2.723, 2.749, 2.754],
  [25.79, 2.718, 2.743, 2.754, 2.766],
  [25.845, 2.717, 2.73, 2.747, 2.774],
  [25.9, 2.718, 2.749, 2.756, 2.768],
  [25.96, 2.748, 2.765, 2.767, 2.78],
  [26.015, 2.734, 2.752, 2.769, 2.783],
  [26.07, 2.731, 2.763, 2.769, 2.796],
  [26.13, 2.761, 2.767, 2.792, 2.808],
  [26.185, 2.763, 2.784, 2.799, 2.811],
  [26.24, 2.766, 2.77, 2.796, 2.815],
  [26.3, 2.766, 2.779, 2.805, 2.81],
  [26.355, 2.773, 2.798, 2.809, 2.821],
  [26.41, 2.771, 2.784, 2.801, 2.828],
  [26.47, 2.773, 2.804, 2.811, 2.823],
  [26.525, 2.803, 2.82, 2.822, 2.835],
  [26.58, 2.789, 2.807, 2.824, 2.838],
  [26.64, 2.785, 2.817, 2.823, 2.85],
  [26.695, 2.814, 2.82, 2.845, 2.861],
  [26.75, 2.816, 2.837, 2.852, 2.864],
  [26.81, 2.818, 2.822, 2.848, 2.867],
  [26.865, 2.817, 2.83, 2.856, 2.861],
  [26.92, 2.825, 2.85, 2.861, 2.873],
  [26.98, 2.823, 2.836, 2.853, 2.88],
  [27.035, 2.824, 2.855, 2.862, 2.874],
  [27.09, 2.853, 2.87, 2.872, 2.885],
  [27.15, 2.839, 2.857, 2.874, 2.888],
  [27.205, 2.834, 2.866, 2.872, 2.899],
  [27.26, 2.862, 2.868, 2.893, 2.909],
  [27.32, 2.864, 2.885, 2.9, 2.912],
  [27.375, 2.865, 2.869, 2.895, 2.914],
  [27.43, 2.864, 2.877, 2.903, 2.908],
  [27.49, 2.87, 2.895, 2.906, 2.918],
  [27.545, 2.868, 2.881, 2.898, 2.925],
  [27.6, 2.869, 2.9, 2.907, 2.919],
  [27.66, 2.899, 2.916, 2.918, 2.931],
  [27.715, 2.885, 2.903, 2.92, 2.934],
  [27.77, 2.881, 2.913, 2.919, 2.946],
  [27.83, 2.91, 2.916, 2.941, 2.957],
  [27.885, 2.913, 2.934, 2.949, 2.961],
  [27.94, 2.915, 2.919, 2.945, 2.964],
  [28.0, 2.915, 2.928, 2.954, 2.959],
  [28.055, 2.923, 2.948, 2.959, 2.971],
  [28.11, 2.922, 2.935, 2.952, 2.979],
  [28.17, 2.925, 2.956, 2.963, 2.975],
  [28.225, 2.957, 2.974, 2.976, 2.989],
  [28.28, 2.945, 2.963, 2.98, 2.994],
  [28.34, 2.943, 2.975, 2.981, 3.008],
  [28.395, 2.974, 2.98, 3.005, 3.021],
  [28.45, 2.978, 2.999, 3.014, 3.026],
];

const riseC = [
  [24.304, 2.602, 2.624, 2.643],
  [24.354, 2.616, 2.638, 2.65],
  [24.414, 2.603, 2.623, 2.64, 2.66],
  [24.474, 2.621, 2.638, 2.655],
  [24.524, 2.619, 2.636, 2.652, 2.675],
  [24.584, 2.636, 2.661, 2.669],
  [24.644, 2.63, 2.653, 2.674],
  [24.694, 2.645, 2.665, 2.682],
  [24.754, 2.631, 2.653, 2.672],
  [24.814, 2.646, 2.668, 2.68],
  [24.864, 2.633, 2.653, 2.67, 2.69],
  [24.924, 2.65, 2.667, 2.684],
  [24.984, 2.648, 2.665, 2.681, 2.704],
  [25.034, 2.664, 2.689, 2.697],
  [25.094, 2.66, 2.683, 2.704],
  [25.154, 2.677, 2.697, 2.714],
  [25.204, 2.664, 2.686, 2.705],
  [25.264, 2.681, 2.703, 2.715],
  [25.324, 2.668, 2.688, 2.705, 2.725],
  [25.374, 2.687, 2.704, 2.721],
  [25.434, 2.686, 2.703, 2.719, 2.742],
  [25.494, 2.703, 2.728, 2.736],
  [25.544, 2.698, 2.721, 2.742],
  [25.604, 2.715, 2.735, 2.752],
  [25.664, 2.703, 2.725, 2.744],
  [25.714, 2.72, 2.742, 2.754],
  [25.774, 2.708, 2.728, 2.745, 2.765],
  [25.834, 2.729, 2.746, 2.763],
  [25.884, 2.728, 2.745, 2.761, 2.784],
  [25.944, 2.745, 2.77, 2.778],
  [26.004, 2.741, 2.764, 2.785],
  [26.054, 2.758, 2.778, 2.795],
  [26.114, 2.746, 2.768, 2.787],
  [26.174, 2.764, 2.786, 2.798],
  [26.224, 2.752, 2.772, 2.789, 2.809],
  [26.284, 2.772, 2.789, 2.806],
  [26.344, 2.772, 2.789, 2.805, 2.828],
  [26.394, 2.789, 2.814, 2.822],
  [26.454, 2.785, 2.808, 2.829],
  [26.514, 2.803, 2.823, 2.84],
  [26.564, 2.79, 2.812, 2.831],
  [26.624, 2.807, 2.829, 2.841],
  [26.684, 2.795, 2.815, 2.832, 2.852],
  [26.734, 2.814, 2.831, 2.848],
  [26.794, 2.813, 2.83, 2.846, 2.869],
  [26.854, 2.83, 2.855, 2.863],
  [26.904, 2.826, 2.849, 2.87],
  [26.964, 2.844, 2.864, 2.881],
  [27.024, 2.831, 2.853, 2.872],
  [27.074, 2.847, 2.869, 2.881],
  [27.134, 2.835, 2.855, 2.872, 2.892],
  [27.194, 2.853, 2.87, 2.887],
  [27.244, 2.851, 2.868, 2.884, 2.907],
  [27.304, 2.868, 2.893, 2.901],
  [27.364, 2.863, 2.886, 2.907],
  [27.414, 2.88, 2.9, 2.917],
  [27.474, 2.866, 2.888, 2.907],
  [27.534, 2.883, 2.905, 2.917],
  [27.584, 2.871, 2.891, 2.908, 2.928],
  [27.644, 2.89, 2.907, 2.924],
  [27.704, 2.889, 2.906, 2.922, 2.945],
  [27.754, 2.906, 2.931, 2.939],
  [27.814, 2.902, 2.925, 2.946],
  [27.874, 2.919, 2.939, 2.956],
  [27.924, 2.907, 2.929, 2.948],
  [27.984, 2.924, 2.946, 2.958],
  [28.044, 2.913, 2.933, 2.95, 2.97],
  [28.094, 2.934, 2.951, 2.968],
  [28.154, 2.934, 2.951, 2.967, 2.99],
  [28.214, 2.953, 2.978, 2.986],
  [28.264, 2.951, 2.974, 2.995],
  [28.324, 2.97, 2.99, 3.007],
  [28.384, 2.959, 2.981, 3.0],
  [28.434, 2.978, 3.0, 3.012],
  [28.494, 2.968, 2.988, 3.005, 3.025],
];

const steepEnd = [
  [28.54, 2.975, 2.988, 3.003, 3.017, 3.023, 3.051],
  [28.59, 2.971, 2.985, 3.004, 3.019, 3.043, 3.046],
  [28.65, 2.987, 3.006, 3.015, 3.034, 3.045, 3.059],
  [28.71, 2.983, 3.007, 3.031, 3.035, 3.049, 3.066],
  [28.76, 3.009, 3.018, 3.034, 3.054, 3.065, 3.087],
  [28.82, 3.003, 3.021, 3.035, 3.05, 3.062, 3.081],
  [28.88, 3.018, 3.023, 3.049, 3.064, 3.082, 3.097],
  [28.93, 3.014, 3.043, 3.048, 3.063, 3.085, 3.092],
  [28.99, 3.042, 3.055, 3.07, 3.084, 3.09, 3.118],
  [29.05, 3.041, 3.055, 3.074, 3.089, 3.113, 3.116],
  [29.1, 3.059, 3.078, 3.087, 3.106, 3.117, 3.131],
  [29.16, 3.056, 3.08, 3.104, 3.108, 3.122, 3.139],
  [29.22, 3.085, 3.094, 3.11, 3.13, 3.141, 3.163],
  [29.27, 3.029, 3.079, 3.097, 3.111, 3.126, 3.138, 3.157, 3.212],
  [29.33, 3.095, 3.1, 3.126, 3.141, 3.159, 3.174],
  [29.39, 3.093, 3.122, 3.127, 3.142, 3.164, 3.171],
  [29.44, 3.122, 3.135, 3.15, 3.164, 3.17, 3.198],
  [29.5, 3.121, 3.135, 3.154, 3.169, 3.193, 3.196],
  [29.56, 3.139, 3.158, 3.167, 3.186, 3.197, 3.211],
  [29.61, 3.134, 3.158, 3.182, 3.186, 3.2, 3.217],
  [29.67, 3.16, 3.169, 3.185, 3.205, 3.216, 3.238],
  [29.73, 3.154, 3.172, 3.186, 3.201, 3.213, 3.232, 3.271, 3.279],
  [29.78, 3.169, 3.174, 3.2, 3.215, 3.233, 3.248],
  [29.84, 3.168, 3.197, 3.202, 3.217, 3.239, 3.246],
  [29.9, 3.2, 3.213, 3.228, 3.242, 3.248, 3.276],
  [29.95, 3.201, 3.215, 3.234, 3.249, 3.273, 3.276],
  [30.0, 3.186, 3.205, 3.224, 3.238, 3.257, 3.271, 3.289, 3.302],
  [30.02, 3.195, 3.213, 3.229, 3.246, 3.262, 3.281, 3.296, 3.318],
  [30.04, 3.182, 3.201, 3.219, 3.235, 3.252, 3.268, 3.287, 3.31, 3.226],
  [30.06, 3.19, 3.208, 3.231, 3.243, 3.259, 3.276, 3.293, 3.315, 3.324],
  [30.08, 3.199, 3.216, 3.234, 3.249, 3.265, 3.284, 3.302, 3.322, 3.333],
  [30.1, 3.211, 3.228, 3.244, 3.26, 3.279, 3.297, 3.314, 3.33, 3.342],
  [30.11, 3.222, 3.251, 3.273, 3.306, 3.336],
];

const steepEndB = [
  [28.51, 2.982, 2.986, 3.012, 3.031],
  [28.565, 2.983, 2.996, 3.022, 3.027],
  [28.62, 2.992, 3.017, 3.028, 3.04],
  [28.68, 2.994, 3.007, 3.024, 3.051],
  [28.735, 2.998, 3.029, 3.036, 3.048],
  [28.79, 3.032, 3.049, 3.051, 3.064],
  [28.85, 3.022, 3.04, 3.057, 3.071],
  [28.905, 3.021, 3.053, 3.059, 3.086],
  [28.96, 3.054, 3.06, 3.085, 3.101],
  [29.02, 3.06, 3.081, 3.096, 3.108],
  [29.075, 3.067, 3.071, 3.097, 3.116],
  [29.13, 3.071, 3.084, 3.11, 3.115],
  [29.19, 3.084, 3.109, 3.12, 3.132],
  [29.245, 3.087, 3.1, 3.117, 3.144],
  [29.3, 3.092, 3.123, 3.13, 3.142],
  [29.36, 3.127, 3.144, 3.146, 3.159],
  [29.415, 3.118, 3.136, 3.153, 3.167],
  [29.47, 3.119, 3.151, 3.157, 3.184],
  [29.53, 3.153, 3.159, 3.184, 3.2],
  [29.585, 3.159, 3.18, 3.195, 3.207],
  [29.64, 3.164, 3.168, 3.194, 3.213],
  [29.7, 3.166, 3.179, 3.205, 3.21],
  [29.755, 3.178, 3.203, 3.214, 3.226],
  [29.81, 3.181, 3.194, 3.211, 3.238],
  [29.87, 3.189, 3.22, 3.227, 3.239],
  [29.925, 3.226, 3.243, 3.245, 3.258],
  [29.975, 3.218, 3.236, 3.253, 3.267],
];

const readings = [
  warmupStart,
  coolPlateau,
  coolPlateauB,
  coolPlateauC,
  trough,
  troughB,
  troughC,
  rise,
  riseB,
  riseC,
  steepEnd,
  steepEndB,
].flatMap((rows) => rows.flatMap(([temp, ...values]) => values.map((rms) => ({ temp, rms }))));

const red = '#ff0000';
const serif = '"Liberation Serif", "Times New Roman", serif';
const sans = '"Liberation Sans", Arial, sans-serif';

// snapped to whole pixels so the squares stay crisp like the original bitmap markers
const SquareMark = (props: any) => {
  const cx = Math.round(props.cx);
  const cy = Math.round(props.cy);
  return (
    <g shapeRendering="crispEdges">
      <rect x={cx - 4} y={cy - 4} width={8} height={8} fill="#0000ff" />
      <rect x={cx - 1} y={cy - 1} width={2} height={2} fill="#c8c8ff" />
    </g>
  );
};

const CrossMark = (props: any) => {
  const cx = Math.round(props.cx);
  const cy = Math.round(props.cy);
  return (
    <g stroke="#1010ff" strokeWidth={2} shapeRendering="crispEdges">
      <line x1={cx - 4} y1={cy} x2={cx + 4} y2={cy} />
      <line x1={cx} y1={cy - 4} x2={cx} y2={cy + 4} />
    </g>
  );
};

const TempTick = (props: any) => {
  const { x, y, payload } = props;
  return (
    <g>
      <line x1={x} y1={y + 2} x2={x} y2={y + 13} stroke="#333" strokeWidth={2} />
      <text x={x} y={y + 39} textAnchor="middle" fontFamily={serif} fontSize={24} fill="#1a1a1a">
        {Number(payload.value).toFixed(2)}
      </text>
    </g>
  );
};

const RmsTick = (props: any) => {
  const { x, y, payload } = props;
  return (
    <g>
      <line x1={x - 13} y1={y} x2={x - 3} y2={y} stroke="#333" strokeWidth={2} />
      <text x={x - 18} y={y} dy="0.35em" textAnchor="end" fontFamily={serif} fontSize={24} fill="#1a1a1a">
        {Number(payload.value).toFixed(1)}
      </text>
    </g>
  );
};

const DoubleArrow = (props: any) => {
  const { x1, y1, x2, y2 } = props;
  return (
    <g stroke={red} strokeWidth={2} fill="none">
      <line x1={x1} y1={y1} x2={x2} y2={y2} />
      <polyline points={`${x1 + 24},${y1 - 12} ${x1 + 1},${y1} ${x1 + 24},${y1 + 12}`} />
      <polyline points={`${x2 - 24},${y2 - 12} ${x2 - 1},${y2} ${x2 - 24},${y2 + 12}`} />
    </g>
  );
};

export default function App() {
  return (
    <div style={{ position: 'absolute', left: 0, top: 0, width: 1538, height: 771, background: '#fff', overflow: 'hidden' }}>
      <div style={{ position: 'absolute', left: 10, top: 0, width: 1, height: 771, background: '#ececec' }} />
      <ScatterChart width={1538} height={771} margin={{ top: 20, right: 30, bottom: 0, left: 0 }}>
        <CartesianGrid
          verticalValues={gridTemps}
          horizontalValues={gridRms}
          stroke="#dcdcdc"
          strokeWidth={2}
        />
        <XAxis
          type="number"
          dataKey="temp"
          domain={tempDomain}
          ticks={tempTicks}
          allowDataOverflow
          padding={{ left: 3, right: 1 }}
          height={85}
          axisLine={false}
          tickLine={false}
          tickSize={0}
          tickMargin={0}
          tick={<TempTick />}
          interval={0}
        >
          <Label
            content={() => (
              <text x={808} y={762} textAnchor="middle" fontFamily={serif} fontSize={21} letterSpacing={1.6} fill="#1a1a1a">
                Temperature (C)
              </text>
            )}
          />
        </XAxis>
        <YAxis
          type="number"
          dataKey="rms"
          domain={rmsDomain}
          ticks={rmsTicks}
          allowDataOverflow
          width={110}
          axisLine={{ stroke: '#a0a0a0', strokeWidth: 2 }}
          tickLine={false}
          tickSize={0}
          tickMargin={0}
          tick={<RmsTick />}
          interval={0}
        >
          <Label
            content={() => (
              <text
                x={42}
                y={338}
                transform="rotate(-90 42 338)"
                textAnchor="middle"
                fontFamily={serif}
                fontSize={21}
                letterSpacing={0.8}
                fill="#1a1a1a"
              >
                Measurement RMS (ps)
              </text>
            )}
          />
        </YAxis>
        <ReferenceLine y={rmsDomain[1]} stroke="#b4b4b4" strokeWidth={2} />
        <Scatter data={readings} shape={<SquareMark />} isAnimationActive={false} />
        <Scatter data={strayReadings} shape={<CrossMark />} isAnimationActive={false} />
        <ReferenceLine
          segment={[{ x: limitLineTemps[0], y: rmsLimit }, { x: limitLineTemps[1], y: rmsLimit }]}
          ifOverflow="visible"
          stroke={red}
          strokeWidth={2}
        />
        <ReferenceLine
          segment={[{ x: calibrationTemp, y: calibrationLineRms[0] }, { x: calibrationTemp, y: calibrationLineRms[1] }]}
          ifOverflow="visible"
          stroke={red}
          strokeWidth={2}
        />
        <ReferenceLine
          segment={[{ x: calibrationTemp + deltaT, y: limitDropRms[0] }, { x: calibrationTemp + deltaT, y: limitDropRms[1] }]}
          ifOverflow="visible"
          stroke={red}
          strokeWidth={2}
        />
        <ReferenceLine
          segment={[{ x: calibrationTemp, y: arrowRms }, { x: calibrationTemp + deltaT, y: arrowRms }]}
          ifOverflow="visible"
          shape={(p: any) => <DoubleArrow {...p} />}
        />
      </ScatterChart>
      <svg width={1538} height={771} style={{ position: 'absolute', left: 0, top: 0, pointerEvents: 'none' }}>
        <text x={572} y={383} fontFamily={sans} fontSize={40} fill={red}>Calibration</text>
        <text x={572} y={428} fontFamily={sans} fontSize={40} fill={red}>temperature</text>
        <text x={970} y={430} fontFamily={sans} fontSize={40} fill={red}>ΔT = +6ºC</text>
      </svg>
      <div
        style={{
          position: 'absolute',
          left: 10,
          top: 13,
          width: 50,
          height: 50,
          borderRadius: '50%',
          background: '#c4c4c4',
          borderRight: '2px dashed #333',
          borderBottom: '2px dashed #333',
          boxSizing: 'border-box',
          display: 'flex',
          alignItems: 'center',
          justifyContent: 'center',
          fontFamily: sans,
          fontSize: 22,
          color: '#222',
        }}
      >
        +Y
      </div>
      <div
        style={{
          position: 'absolute',
          left: 1497,
          top: 757,
          width: 60,
          height: 60,
          borderRadius: '50%',
          background: '#c8c8c8',
          borderRight: '2px dashed #333',
        }}
      />
    </div>
  );
}
